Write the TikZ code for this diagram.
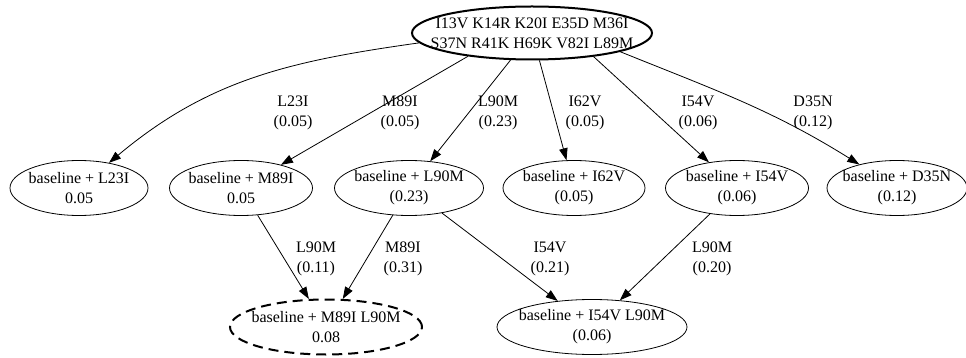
\documentclass[tikz,border=0pt]{standalone}
\usepackage{fontspec}
\setmainfont{Liberation Serif}
\usetikzlibrary{arrows.meta,shapes.geometric}
\begin{document}
\begin{tikzpicture}[x=1pt,y=1pt,
  every node/.style={font=\fontsize{16}{20}\selectfont, align=center},
  st/.style={draw, ellipse, inner sep=0pt, line width=0.8pt, minimum height=55pt,
    label={[lbl]center:#1}},
  lbl/.style={inner sep=0pt, draw=none},
  edge/.style={line width=0.8pt, -{Triangle[length=12pt,width=8.5pt]}},
  shorten >=0pt]
\useasboundingbox (0,0) rectangle (966,-358);
\node[st={I13V K14R K20I E35D M36I\\S37N R41K H69K V82I L89M}, line width=2pt, minimum width=240pt, minimum height=53pt] (root) at (532,-33) {};
\node[st={baseline + L23I\\0.05}, minimum width=138pt] (a) at (79,-188) {};
\node[st={baseline + M89I\\0.05}, minimum width=143pt] (b) at (241,-188) {};
\node[st={baseline + L90M\\(0.23)}, minimum width=149pt] (c) at (409,-188) {};
\node[st={baseline + I62V\\(0.05)}, minimum width=142pt] (d) at (574,-188) {};
\node[st={baseline + I54V\\(0.06)}, minimum width=143pt] (e) at (737,-188) {};
\node[st={baseline + D35N\\(0.12)}, minimum width=140pt] (f) at (897,-188) {};
\node[st={baseline + M89I L90M\\0.08}, line width=2pt, dash pattern=on 10pt off 6pt, minimum width=192pt] (g) at (326,-327) {};
\node[st={baseline + I54V L90M\\(0.06)}, minimum width=190pt] (h) at (592,-327) {};

\draw[edge] (root.185) to[out=188, in=40] (a);
\draw[edge] (root.200) -- (b);
\draw[edge] (root) -- (c);
\draw[edge] (root) -- (d);
\draw[edge] (root.-21) -- (e);
\draw[edge] (root.-12) to[out=-22, in=148] (f);
\draw[edge] (b) -- (g);
\draw[edge] (c) -- (g);
\draw[edge] (c) -- (h);
\draw[edge] (e) -- (h);

\node[lbl] (la) at (293,-113) {L23I\\(0.05)};
\node[lbl] (lb) at (400,-113) {M89I\\(0.05)};
\node[lbl] (lc) at (498,-113) {L90M\\(0.23)};
\node[lbl] (ld) at (585,-113) {I62V\\(0.05)};
\node[lbl] (le) at (698,-113) {I54V\\(0.06)};
\node[lbl] (lf) at (813,-113) {D35N\\(0.12)};
\node[lbl] (lg) at (316,-259) {L90M\\(0.11)};
\node[lbl] (lh) at (403,-259) {M89I\\(0.31)};
\node[lbl] (li) at (550,-259) {I54V\\(0.21)};
\node[lbl] (lj) at (712,-259) {L90M\\(0.20)};
\end{tikzpicture}
\end{document}
